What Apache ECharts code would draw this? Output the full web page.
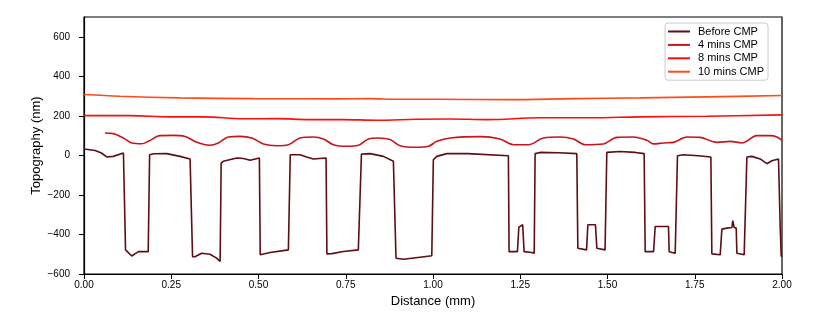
<!DOCTYPE html>
<html>
<head>
<meta charset="utf-8">
<script src="https://cdn.jsdelivr.net/npm/echarts@6/dist/echarts.min.js"></script>
<style>
html,body{margin:0;padding:0;background:#fff;}
#chart{width:830px;height:317px;}
</style>
</head>
<body>
<div id="chart"></div>
<script>
// ---- Data ----
const seriesNames = ['Before CMP', '4 mins CMP', '8 mins CMP', '10 mins CMP'];

const beforeX = [0, 0.032, 0.05, 0.065, 0.084, 0.113, 0.116, 0.119, 0.122, 0.137, 0.147, 0.156, 0.184, 0.186, 0.188, 0.2, 0.237, 0.275, 0.304, 0.308, 0.311, 0.318, 0.337, 0.361, 0.38, 0.39, 0.393, 0.399, 0.438, 0.457, 0.476, 0.5025, 0.505, 0.533, 0.5856, 0.588, 0.591, 0.619, 0.638, 0.657, 0.6936, 0.696, 0.71, 0.743, 0.786, 0.79, 0.795, 0.82, 0.858, 0.8865, 0.891, 0.894, 0.915, 0.963, 0.9965, 0.999, 1.001, 1.011, 1.0395, 1.1, 1.216, 1.218, 1.2418, 1.246, 1.257, 1.261, 1.283, 1.29, 1.2926, 1.307, 1.36, 1.412, 1.415, 1.44, 1.4437, 1.4655, 1.4695, 1.493, 1.496, 1.498, 1.536, 1.58, 1.605, 1.608, 1.632, 1.6366, 1.6747, 1.6767, 1.694, 1.698, 1.7005, 1.7176, 1.76, 1.7962, 1.799, 1.8229, 1.8277, 1.842, 1.8564, 1.859, 1.863, 1.8688, 1.8707, 1.8916, 1.896, 1.8994, 1.9137, 1.9375, 1.9567, 1.971, 1.99, 1.9948, 1.9977, 2.0];
const beforeY = [32, 25, 12, -8, -5, 12, 10, -478, -482, -509, -497, -487, -487, -495, 3, 8, 9, -5, -18, -18, -512, -513, -495, -500, -520, -537, -39, -30, -13, -16, -25, -13, -503, -491, -478, -485, 3, 3, -8, -18, -13, -498, -497, -486, -478, -482, 7, 9, -5, -30, -32, -520, -525, -515, -508, -515, -22, -5, 9, 9, -2, -487, -487, -363, -351, -487, -491, -495, 9, 15, 13, 9, -470, -478, -351, -351, -470, -478, -485, 15, 20, 15, 9, -487, -487, -360, -360, -487, -495, -498, -2, 3, -2, -8, -498, -503, -373, -368, -365, -330, -365, -368, -495, -503, -512, -8, -5, -18, -42, -27, -18, -360, -508, -512];

const min4X = [0.06, 0.084, 0.1127, 0.1367, 0.1654, 0.1844, 0.2178, 0.256, 0.2895, 0.323, 0.361, 0.385, 0.4136, 0.447, 0.4806, 0.514, 0.5523, 0.5856, 0.619, 0.657, 0.686, 0.7145, 0.753, 0.786, 0.815, 0.8435, 0.877, 0.9057, 0.9536, 0.987, 1.011, 1.049, 1.135, 1.192, 1.2305, 1.2735, 1.3165, 1.364, 1.4025, 1.436, 1.488, 1.527, 1.5745, 1.6128, 1.632, 1.66, 1.689, 1.7273, 1.7655, 1.8134, 1.8515, 1.885, 1.928, 1.966, 1.9854, 2.0];
const min4Y = [113, 110, 88, 63, 59, 71, 100, 101, 96, 66, 51, 63, 93, 96, 88, 58, 49, 54, 88, 93, 83, 54, 46, 51, 83, 88, 80, 49, 41, 46, 71, 88, 95, 83, 54, 54, 88, 93, 83, 54, 58, 91, 93, 76, 58, 63, 66, 93, 91, 66, 71, 63, 100, 100, 93, 76];

const min8X = [0, 0.132, 0.2465, 0.342, 0.4566, 0.552, 0.648, 0.743, 0.839, 0.9536, 1.049, 1.154, 1.307, 1.45, 1.5936, 1.785, 2.0];
const min8Y = [201, 201, 195, 195, 185, 186, 181, 181, 178, 183, 184, 181, 190, 190, 195, 198, 205];

const min10X = [0, 0.103, 0.275, 0.485, 0.724, 0.82, 0.896, 1.02, 1.2115, 1.4025, 1.5936, 1.785, 2.0];
const min10Y = [308, 299, 291, 287, 286, 287, 284, 284, 282, 287, 291, 296, 303];

const xTicks = [0, 0.25, 0.5, 0.75, 1.0, 1.25, 1.5, 1.75, 2.0];
const yTicks = [-600, -400, -200, 0, 200, 400, 600];

const colors = ['#5e0d12', '#c8141a', '#ff0d0d', '#ff4a1a'];

// ---- Build chart ----
const zip = (xs, ys) => xs.map((x, i) => [x, ys[i]]);
const allData = [zip(beforeX, beforeY), zip(min4X, min4Y), zip(min8X, min8Y), zip(min10X, min10Y)];
const FONT = '"Liberation Sans", Arial, sans-serif';

const chart = echarts.init(document.getElementById('chart'), null, {renderer: 'canvas'});
chart.setOption({
  animation: false,
  backgroundColor: '#fff',
  textStyle: {fontFamily: FONT},
  grid: {left: 84, right: 48, top: 17, bottom: 43, show: true, borderColor: '#000', borderWidth: 1.2, backgroundColor: 'transparent'},
  legend: {
    orient: 'vertical',
    left: 665,
    top: 23,
    data: seriesNames.map((n, i) => ({name: n, icon: 'rect', itemStyle: {color: colors[i]}})),
    itemWidth: 22,
    itemHeight: 2,
    itemGap: 0.4,
    padding: [2, 4, 2, 3],
    backgroundColor: 'rgba(255,255,255,0.8)',
    borderColor: '#cccccc',
    borderWidth: 1,
    borderRadius: 3,
    textStyle: {fontFamily: FONT, fontSize: 11, color: '#000', lineHeight: 13, padding: [0, 0, 0, 3]}
  },
  xAxis: {
    type: 'value',
    min: 0,
    max: 2,
    interval: 0.25,
    name: 'Distance (mm)',
    nameLocation: 'middle',
    nameGap: 21,
    nameMoveOverlap: false,
    nameTextStyle: {fontFamily: FONT, fontSize: 13, color: '#000'},
    axisLine: {show: true, onZero: false, lineStyle: {color: '#000', width: 1.2}},
    axisTick: {show: true, inside: false, length: 5, customValues: xTicks, lineStyle: {color: '#000', width: 1}},
    axisLabel: {fontFamily: FONT, fontSize: 10, color: '#000', margin: 6, customValues: xTicks, formatter: v => v.toFixed(2)},
    splitLine: {show: false}
  },
  yAxis: {
    type: 'value',
    min: -600,
    max: 700,
    interval: 200,
    name: 'Topography (nm)',
    nameLocation: 'middle',
    nameGap: 41,
    nameMoveOverlap: false,
    nameTextStyle: {fontFamily: FONT, fontSize: 13, color: '#000'},
    axisLine: {show: true, onZero: false, lineStyle: {color: '#000', width: 1.2}},
    axisTick: {show: true, inside: false, length: 5, customValues: yTicks, lineStyle: {color: '#000', width: 1}},
    axisLabel: {fontFamily: FONT, fontSize: 10, color: '#000', margin: 14, customValues: yTicks, formatter: v => (v < 0 ? '\u2212' + Math.abs(v) : String(v))},
    splitLine: {show: false}
  },
  series: seriesNames.map((n, i) => ({
    name: n,
    type: 'line',
    data: allData[i],
    showSymbol: false,
    smooth: i === 0 ? false : 0.35,
    color: colors[i],
    lineStyle: {color: colors[i], width: 1.6},
    z: 2 + i
  }))
});
</script>
</body>
</html>
